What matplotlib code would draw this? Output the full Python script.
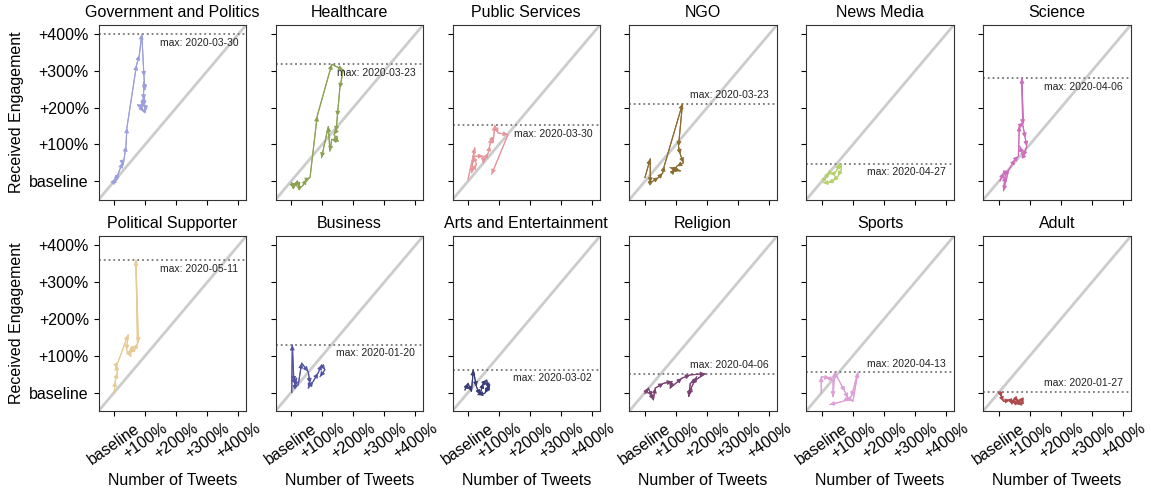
import matplotlib
matplotlib.use("Agg")
from matplotlib import pyplot as plt

plt.rcParams['font.family'] = ['Liberation Sans', 'DejaVu Sans']

categories = ["Government and Politics", "Healthcare", "Public Services", "NGO",
              "News Media", "Science", "Political Supporter", "Business",
              "Arts and Entertainment", "Religion", "Sports", "Adult"]
colors = ["#9c9ede", "#8ca252", "#e7969c", "#8c6d31", "#b5cf6b", "#ce6dbd",
          "#e7cb94", "#5254a3", "#393b79", "#7b4173", "#de9ed6", "#ad494a"]
max_dates = ["2020-03-30", "2020-03-23", "2020-03-30", "2020-03-23", "2020-04-27", "2020-04-06",
             "2020-05-11", "2020-01-20", "2020-03-02", "2020-04-06", "2020-04-13", "2020-01-27"]
max_vals = [4.0, 3.18, 1.52, 2.11, 0.48, 2.8, 3.6, 1.29, 0.61, 0.51, 0.55, 0.02]
label_above = [False, False, False, True, False, False, False, False, False, True, True, True]

# x = number of tweets, y = received engagement (0 = baseline, 1 = +100%)
gov_x = [0.0, 0.05, 0.13, 0.03, 0.08, 0.27, 0.29, 0.38, 0.41, 0.72, 0.81, 0.89, 0.96, 0.99, 0.96, 0.94, 0.89, 0.75, 0.96, 1.05, 0.92, 0.98, 0.95]
gov_y = [0.0, 0.05, 0.19, 0.02, 0.1, 0.5, 0.44, 0.95, 1.45, 3.16, 3.43, 4.0, 2.85, 2.49, 2.7, 2.22, 2.04, 2.08, 1.9, 1.99, 2.1, 2.3, 2.05]
health_x = [0.02, 0.07, 0.2, 0.28, 0.37, 0.5, 0.61, 0.84, 1.31, 1.68, 1.57, 1.49, 1.45, 1.38, 1.52, 1.31, 1.25, 1.2, 0.98]
health_y = [-0.04, -0.2, 0.01, -0.17, -0.13, 0.05, 0.1, 1.77, 3.18, 3.03, 2.53, 1.77, 1.36, 1.27, 1.09, 1.14, 0.82, 1.49, 0.64]
public_x = [0.0, 0.22, 0.11, 0.27, 0.17, 0.49, 0.49, 0.65, 0.7, 0.76, 0.81, 0.86, 0.97, 1.29, 0.76]
public_y = [0.05, 0.91, 0.23, 0.46, 0.68, 0.68, 0.5, 0.77, 0.96, 1.18, 1.05, 1.52, 1.31, 1.27, 0.19]
ngo_x = [0.0, 0.17, 0.17, 0.27, 0.44, 0.57, 0.62, 1.21, 1.08, 1.14, 1.24, 1.03, 0.87, 0.97, 1.14, 0.81]
ngo_y = [0.1, 0.61, -0.04, 0.01, 0.1, 0.22, 0.41, 2.11, 0.95, 0.73, 0.5, 0.41, 0.23, 0.32, 0.28, 0.37]
news_x = [0.04, 0.15, 0.25, 0.36, 0.47, 0.57, 0.63, 0.52, 0.36, 0.2, 0.04]
news_y = [0.01, 0.14, 0.23, 0.19, 0.28, 0.48, 0.32, 0.14, 0.01, -0.04, -0.04]
sci_x = [0.04, 0.15, 0.31, 0.15, 0.2, 0.52, 0.63, 0.66, 0.79, 0.74, 0.77, 0.85, 0.9, 0.79, 0.74, 0.68]
sci_y = [0.01, 0.23, 0.28, -0.26, 0.14, 0.59, 0.68, 1.5, 1.59, 2.8, 1.54, 1.18, 0.95, 0.68, 0.77, 0.95]
pol_x = [0.0, 0.03, 0.1, 0.06, 0.13, 0.45, 0.4, 0.53, 0.56, 0.64, 0.75, 0.7, 0.78]
pol_y = [-0.02, 0.3, 0.53, 0.75, 0.84, 1.57, 1.16, 0.98, 1.25, 1.11, 1.34, 3.6, 1.36]
bus_x = [0.02, 0.04, 0.09, 0.18, 0.12, 0.23, 0.34, 0.55, 0.61, 0.55, 0.71, 0.87, 0.98, 1.09, 0.93]
bus_y = [0.0, 1.29, 0.3, 0.39, 0.16, 0.21, 0.8, 0.57, 0.25, 0.12, 0.3, 0.53, 0.75, 0.62, 0.43]
arts_x = [-0.1, 0.0, 0.11, 0.17, 0.27, 0.38, 0.49, 0.6, 0.65, 0.7, 0.54, 0.32]
arts_y = [0.07, 0.25, 0.03, 0.61, 0.16, -0.06, 0.25, 0.34, 0.12, 0.21, -0.02, -0.06]
rel_x = [0.0, 0.11, 0.22, 0.27, 0.33, 0.6, 0.87, 0.81, 1.19, 1.46, 1.94, 1.46, 1.41, 1.51, 1.67]
rel_y = [-0.02, 0.12, -0.11, -0.2, 0.12, 0.25, 0.3, 0.12, 0.39, 0.48, 0.51, 0.25, -0.11, 0.16, 0.43]
sport_x = [-0.02, -0.02, 0.25, 0.36, 0.36, 0.41, 0.74, 0.84, 1.0, 1.16, 0.95, 0.68, 0.25]
sport_y = [-0.02, 0.43, 0.39, 0.3, -0.11, 0.55, 0.03, -0.15, -0.24, 0.55, -0.11, -0.24, -0.33]
adult_x = [0.04, 0.09, 0.15, 0.36, 0.42, 0.52, 0.63, 0.74, 0.79, 0.58, 0.47]
adult_y = [0.02, -0.13, -0.24, -0.2, -0.31, -0.15, -0.24, -0.18, -0.29, -0.31, -0.2]

series = [(gov_x, gov_y), (health_x, health_y), (public_x, public_y), (ngo_x, ngo_y),
          (news_x, news_y), (sci_x, sci_y), (pol_x, pol_y), (bus_x, bus_y),
          (arts_x, arts_y), (rel_x, rel_y), (sport_x, sport_y), (adult_x, adult_y)]

ticks = [0, 1, 2, 3, 4]
tick_labels = ["baseline", "+100%", "+200%", "+300%", "+400%"]
lo, hi = -0.5, 4.25

fig, axes = plt.subplots(2, 6, figsize=(11.51, 4.88), dpi=100, sharex=True, sharey=True)
fig.subplots_adjust(left=0.0857, right=0.9824, top=0.9488, bottom=0.158, wspace=0.2, hspace=0.21)

for i, ax in enumerate(axes.flat):
    xs, ys = series[i]
    c = colors[i]
    ax.plot([lo, hi], [lo, hi], color="#cccccc", lw=2, zorder=0)
    ax.axhline(max_vals[i], color="#777777", ls=":", lw=1.3, zorder=1)
    ax.plot(xs, ys, color=c, lw=0.8, zorder=2)
    # arrows between consecutive weeks
    for j in range(len(xs) - 1):
        ax.annotate("", xy=(xs[j + 1], ys[j + 1]), xytext=(xs[j], ys[j]),
                    arrowprops=dict(arrowstyle="-|>", color=c, lw=0.8,
                                    mutation_scale=6.5, shrinkA=0, shrinkB=0))
    off = 6 if label_above[i] else -6
    ax.annotate("max: " + max_dates[i], xy=(4.0, max_vals[i]), xytext=(0, off),
                textcoords="offset points", ha="right", va="center",
                fontsize=7.5, color="#222222")
    ax.set_title(categories[i], fontsize=11.5)
    ax.set_xlim(lo, hi)
    ax.set_ylim(lo, hi)
    ax.set_xticks(ticks)
    ax.set_yticks(ticks)
    ax.set_yticklabels(tick_labels, fontsize=11.5)
    ax.set_xticklabels(tick_labels, fontsize=11.5, rotation=35, ha="center")
    for s in ax.spines.values():
        s.set_color("#333333")

for ax in axes[0]:
    ax.tick_params(labelbottom=False)
for ax in axes[:, 0]:
    ax.set_ylabel("Received Engagement", fontsize=11.5)
for ax in axes[1]:
    ax.set_xlabel("Number of Tweets", fontsize=11.5)

fig.savefig("out.png", dpi=100)
